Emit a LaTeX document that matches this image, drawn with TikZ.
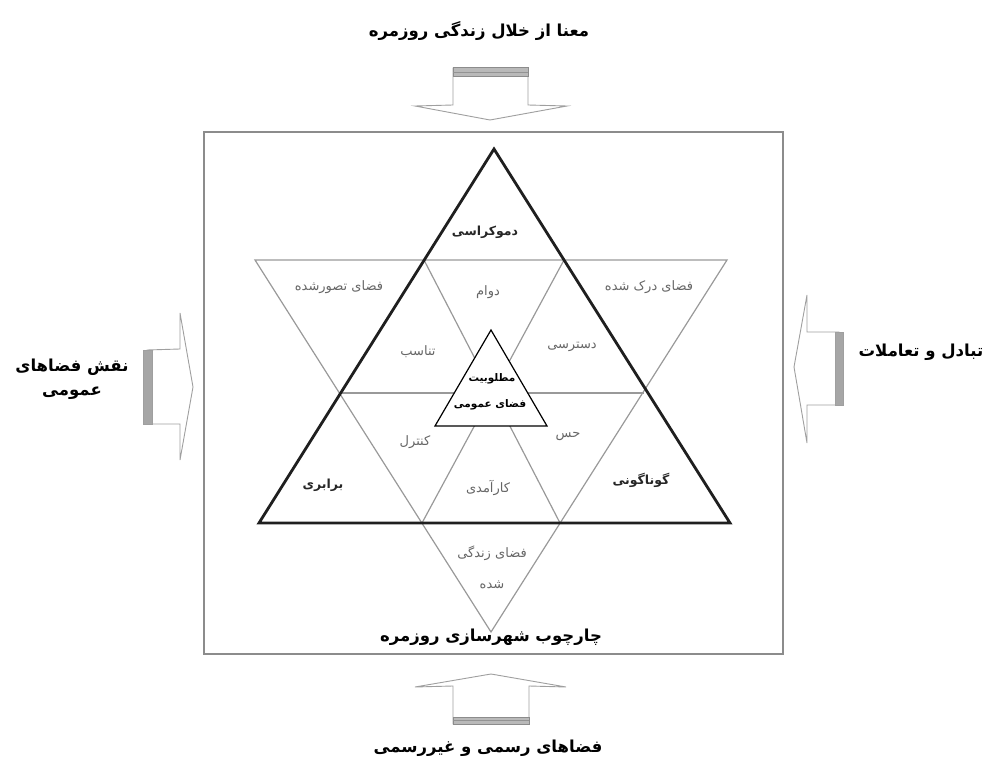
\documentclass[tikz,border=0pt]{standalone}
\usepackage{fontspec}
\TeXXeTstate=1
\newfontfamily\fa[Script=Arabic]{DejaVu Sans}
\definecolor{labgray}{gray}{0.4}
\definecolor{gridgray}{gray}{0.6}
\definecolor{framegray}{gray}{0.55}
\tikzset{
  thickline/.style={line width=2.8pt, black!88, line join=miter},
  thinline/.style={line width=1.2pt, draw=gridgray},
  framebox/.style={line width=1.4pt, draw=framegray},
  arrowbody/.style={line width=0.9pt, draw=gray!75, fill=white},
  barhv/.style={line width=1pt, draw=gray!90, fill=gray!55},
  barside/.style={line width=0.6pt, draw=gray!75, fill=gray!70},
  grlab/.style={text=labgray, font=\fa\fontsize{13}{15}\selectfont, inner sep=0pt},
  bdlab/.style={text=black!85, font=\fa\bfseries\fontsize{12.5}{14}\selectfont, inner sep=0pt},
  title/.style={text=black, font=\fa\bfseries\fontsize{16.5}{19}\selectfont, inner sep=0pt},
  ctr/.style={text=black, font=\fa\bfseries\fontsize{10.5}{12}\selectfont, inner sep=0pt}
}
\begin{document}
\begin{tikzpicture}[x=1pt,y=-1pt]
\useasboundingbox (0,0) rectangle (986,767);
% frame
\node[framebox, minimum width=579pt, minimum height=522pt, inner sep=0pt] (frame) at (493.5,393) {};
% triangle vertices
\coordinate (A) at (494,149);
\coordinate (BL) at (259,523);
\coordinate (BR) at (730,523);
\coordinate (TL) at (255,260);
\coordinate (TR) at (727,260);
\coordinate (D) at (491,632);
% hexagon points
\coordinate (H1) at (424,260);
\coordinate (H2) at (564,260);
\coordinate (H3) at (644,393);
\coordinate (H4) at (560,523);
\coordinate (H5) at (422,523);
\coordinate (H6) at (341,393);
% thin grid
\draw[thinline] (TL) -- (TR) -- (D) -- cycle;
\draw[thinline] (H6) -- (H3);
\draw[thinline] (H1) -- (H4);
\draw[thinline] (H2) -- (H5);
% thick triangle
\draw[thickline] (A) -- (BR) -- (BL) -- cycle;
% centre triangle
\coordinate (CA) at (491,330);
\coordinate (CL) at (435,426);
\coordinate (CR) at (547,426);
\draw[line width=1.2pt, black, fill=white, line join=miter] (CA) -- (CR) -- (CL) -- cycle;
\node[ctr] (c1) at (492,379) {\beginR مطلوبیت\endR};
\node[ctr] (c2) at (490,405) {\beginR فضای عمومی\endR};
% labels
\node[bdlab] (demo) at (485,232) {\beginR دموکراسی\endR};
\node[bdlab] (bar) at (323,485) {\beginR برابری\endR};
\node[bdlab] (gun) at (641,480) {\beginR گوناگونی\endR};
\node[grlab] (tas) at (339,287) {\beginR فضای تصورشده\endR};
\node[grlab] (dark) at (649,287) {\beginR فضای درک شده\endR};
\node[grlab] (davam) at (488,292) {\beginR دوام\endR};
\node[grlab] (tana) at (418,352) {\beginR تناسب\endR};
\node[grlab] (dast) at (572,347) {\beginR دسترسی\endR};
\node[grlab] (kont) at (415,442) {\beginR کنترل\endR};
\node[grlab] (hes) at (568,437) {\beginR حس\endR};
\node[grlab] (kar) at (488,488) {\beginR کارآمدی\endR};
\node[grlab] (zend1) at (492,553) {\beginR فضای زندگی\endR};
\node[grlab] (zend2) at (492,585) {\beginR شده\endR};
% titles
\node[title] (chr) at (491,637) {\beginR چارچوب شهرسازی روزمره\endR};
\node[title] (top) at (479,31) {\beginR معنا از خلال زندگی روزمره\endR};
\node[title] (bot) at (488,748) {\beginR فضاهای رسمی و غیررسمی\endR};
\node[title] (right) at (921,352) {\beginR تبادل و تعاملات\endR};
\node[title] (left1) at (72,367) {\beginR نقش فضاهای\endR};
\node[title] (left2) at (72,393) {\beginR عمومی\endR};
% top arrow (down)
\draw[arrowbody] (453,68) -- (453,105) -- (415,106) -- (490,120) -- (567,106) -- (528,105) -- (528,68) -- cycle;
\draw[barhv] (453,68) rectangle (528,77);
\draw[line width=0.6pt, gray!85] (453,72.5) -- (528,72.5);
% bottom arrow (up)
\draw[arrowbody] (453,724) -- (453,686) -- (415,687) -- (491,674) -- (566,687) -- (529,686) -- (529,724) -- cycle;
\draw[barhv] (453,717) rectangle (529,724);
\draw[line width=0.6pt, gray!85] (453,720.5) -- (529,720.5);
% left arrow (right)
\draw[arrowbody] (147,350) -- (180,349) -- (180,313) -- (193,387) -- (180,460) -- (180,424) -- (147,424) -- cycle;
\draw[barside] (143,350) rectangle (152,424);
% right arrow (left)
\draw[arrowbody] (839,332) -- (807,332) -- (807,295) -- (794,367) -- (807,443) -- (807,405) -- (839,405) -- cycle;
\draw[barside] (835,332) rectangle (843,405);
\end{tikzpicture}
\end{document}
